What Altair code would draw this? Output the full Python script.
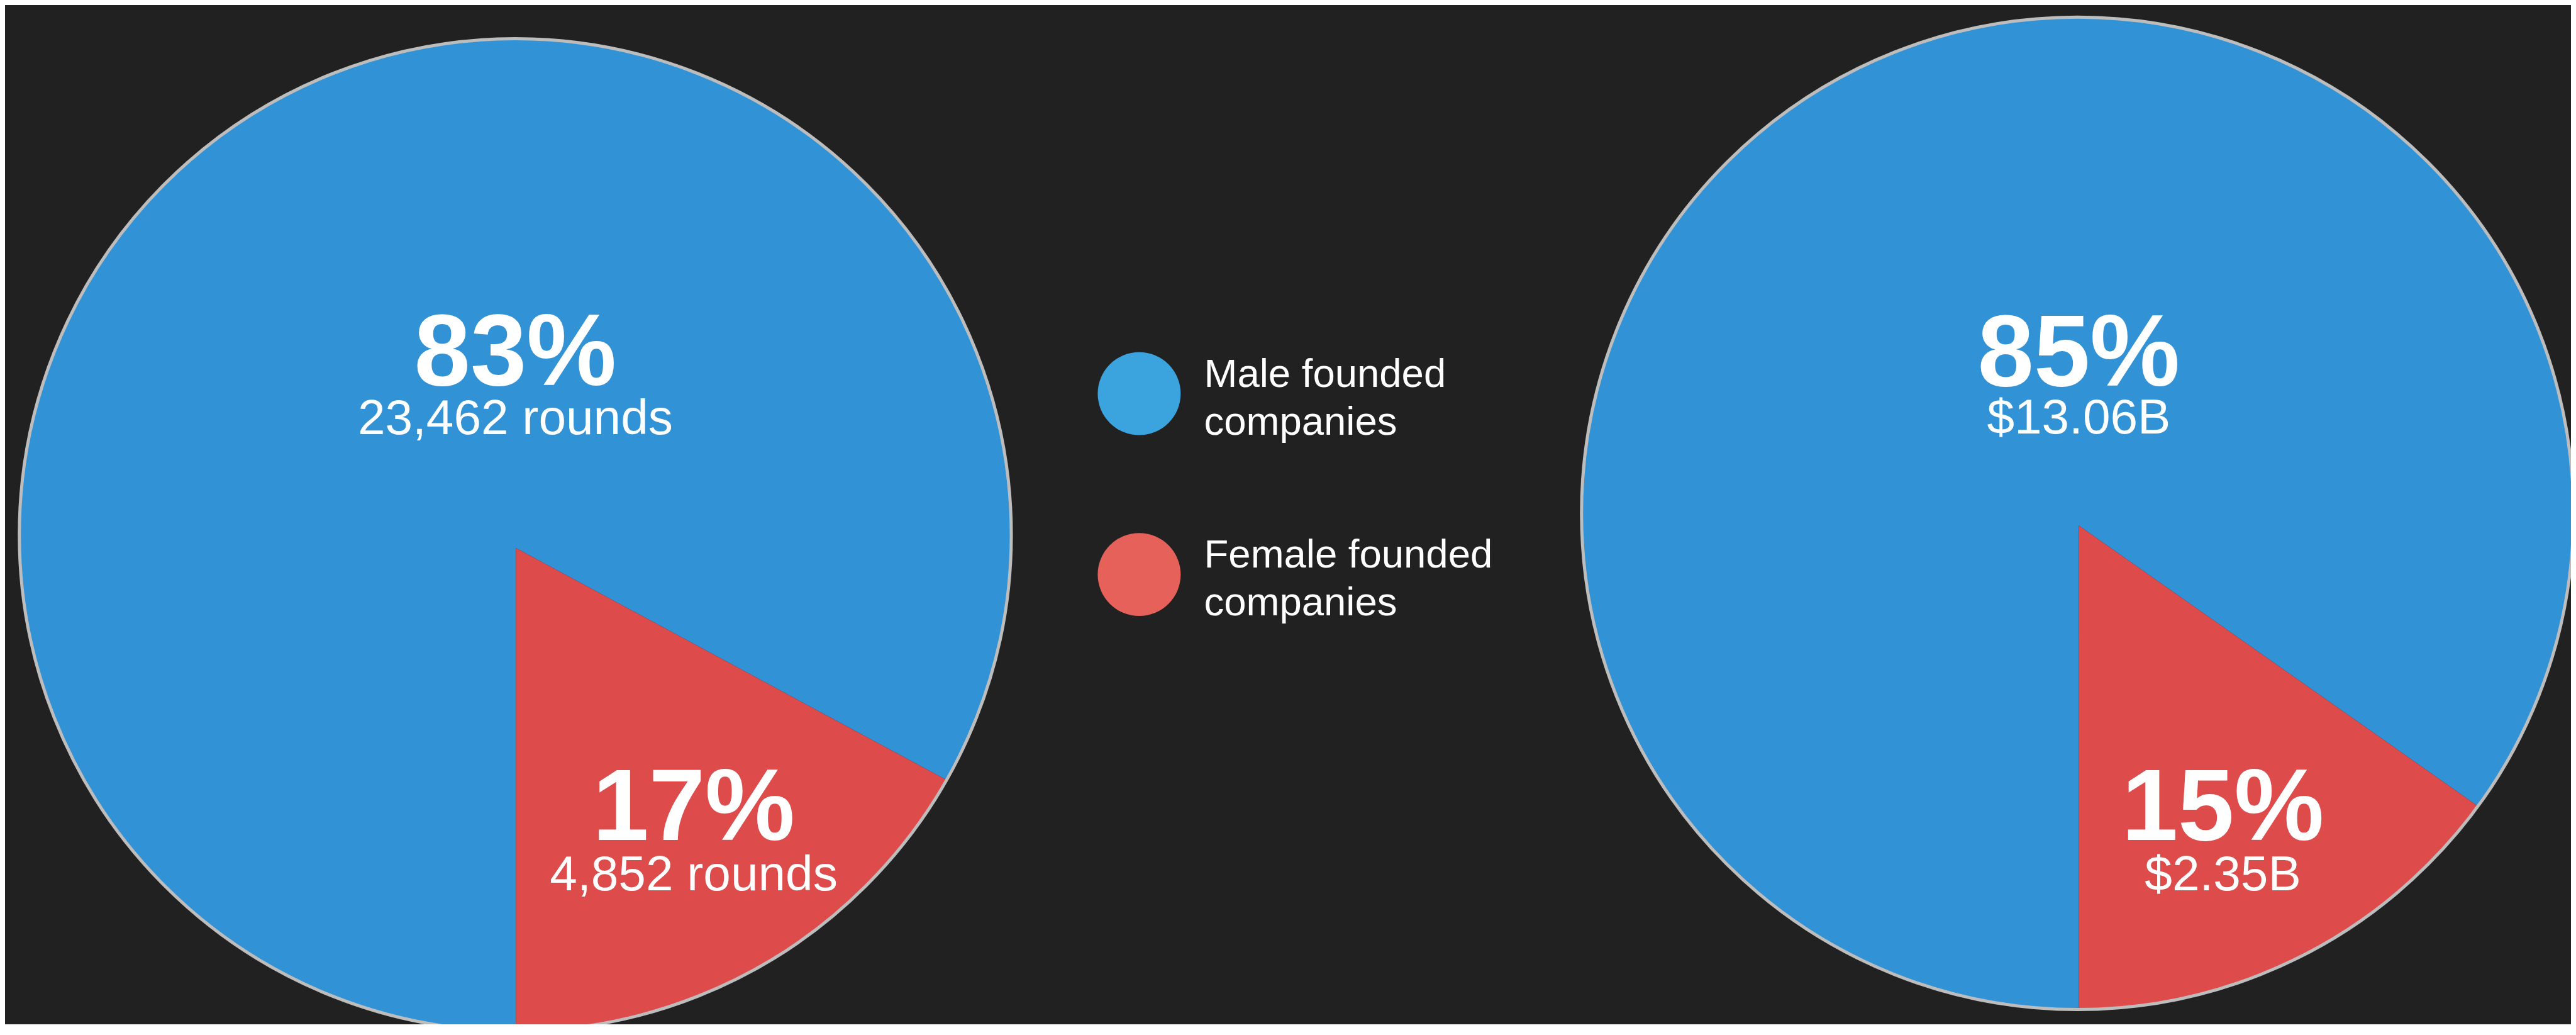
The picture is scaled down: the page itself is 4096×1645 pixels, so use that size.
import math
import altair as alt
import pandas as pd

# ---------------- data ----------------
categories = ["Male founded companies", "Female founded companies"]
legend_text = ["Male founded\ncompanies", "Female founded\ncompanies"]
rounds = [23462, 4852]
funding_billions = [13.06, 2.35]
round_labels = ["23,462 rounds", "4,852 rounds"]
funding_labels = ["$13.06B", "$2.35B"]

# ---------------- styling ----------------
BG = "#212121"
PIE_COLORS = ["#3292D6", "#DD4B4B"]
LEGEND_COLORS = ["#3BA3DE", "#E5615A"]
OUTLINE = "#BDBDBD"
FONT = "Liberation Sans"
S = 0.992  # scale from reference pixels


def P(v):
    """reference pixel -> chart pixel"""
    return v * S - 8


W, H = 4080, 1620


def pct_labels(values):
    tot = sum(values)
    return [f"{round(v / tot * 100)}%" for v in values]


def pie_layers(values, sub_labels, center, apex, label_pos):
    cx, cy = P(center[0]), P(center[1])
    ax, ay = P(apex[0]), P(apex[1])
    df = pd.DataFrame({"category": categories, "value": values, "idx": [0, 1]})
    slices = alt.Chart(df).mark_arc(radius=825 * S, strokeWidth=0).encode(
        x=alt.value(ax),
        y=alt.value(ay),
        theta=alt.Theta("value:Q", stack="normalize",
                        scale=alt.Scale(range=[math.pi, 3 * math.pi])),
        color=alt.Color("category:N",
                        scale=alt.Scale(domain=categories, range=PIE_COLORS),
                        legend=None),
        order=alt.Order("idx:Q"),
    )
    one = pd.DataFrame({"a": [0]})
    mask = alt.Chart(one).mark_arc(
        theta=0, theta2=2 * math.pi, radius=900 * S, radius2=795 * S,
        color=BG, strokeWidth=0,
    ).encode(x=alt.value(cx), y=alt.value(cy))
    outline = alt.Chart(one).mark_arc(
        theta=0, theta2=2 * math.pi, radius=795 * S,
        fillOpacity=0, stroke=OUTLINE, strokeWidth=5 * S,
    ).encode(x=alt.value(cx), y=alt.value(cy))

    layers = [slices, mask, outline]
    pl = pct_labels(values)
    for i in range(2):
        (tx, ty_big, ty_small) = label_pos[i]
        big = alt.Chart(pd.DataFrame({"t": [pl[i]]})).mark_text(
            font=FONT, fontWeight="bold", fontSize=162 * S, color="white",
            align="center", baseline="alphabetic",
        ).encode(x=alt.value(P(tx)), y=alt.value(P(ty_big)), text="t:N")
        small = alt.Chart(pd.DataFrame({"t": [sub_labels[i]]})).mark_text(
            font=FONT, fontSize=79 * S, color="white",
            align="center", baseline="alphabetic",
        ).encode(x=alt.value(P(tx)), y=alt.value(P(ty_small)), text="t:N")
        layers += [big, small]
    return layers


left = pie_layers(rounds, round_labels, center=(826, 857), apex=(827, 878),
                  label_pos=[(826, 617, 696), (1112, 1346, 1426)])
right = pie_layers(funding_billions, funding_labels, center=(3330, 822.5),
                   apex=(3332, 842),
                   label_pos=[(3332, 618, 695), (3563, 1346, 1426)])

# ---------------- legend ----------------
leg_df = pd.DataFrame({"category": categories, "text": legend_text})
leg_dots = alt.Chart(leg_df).mark_circle(size=(133 * S) ** 2, opacity=1).encode(
    x=alt.value(P(1826)),
    y=alt.Y("category:N",
            scale=alt.Scale(type="point", padding=0, domain=categories,
                            range=[P(630.7), P(920.5)]),
            axis=None),
    color=alt.Color("category:N",
                    scale=alt.Scale(domain=categories, range=LEGEND_COLORS),
                    legend=None),
)
leg_text = alt.Chart(leg_df).mark_text(
    font=FONT, fontSize=64 * S, color="white", align="left",
    baseline="alphabetic", lineBreak="\n", lineHeight=76 * S,
).encode(
    x=alt.value(P(1930)),
    y=alt.Y("category:N",
            scale=alt.Scale(type="point", padding=0, domain=categories,
                            range=[P(620.3), P(909.7)]),
            axis=None),
    text="text:N",
)
legend = alt.layer(leg_dots, leg_text).resolve_scale(y="independent",
                                                     color="independent")

chart = alt.layer(*left, *right, legend).resolve_scale(
    color="independent", y="independent"
).properties(
    width=W, height=H, background=BG, padding=0,
    autosize=alt.AutoSizeParams(type="none"),
).configure_view(stroke=None)

chart.save("out.html", embed_options={"renderer": "svg", "actions": False})
